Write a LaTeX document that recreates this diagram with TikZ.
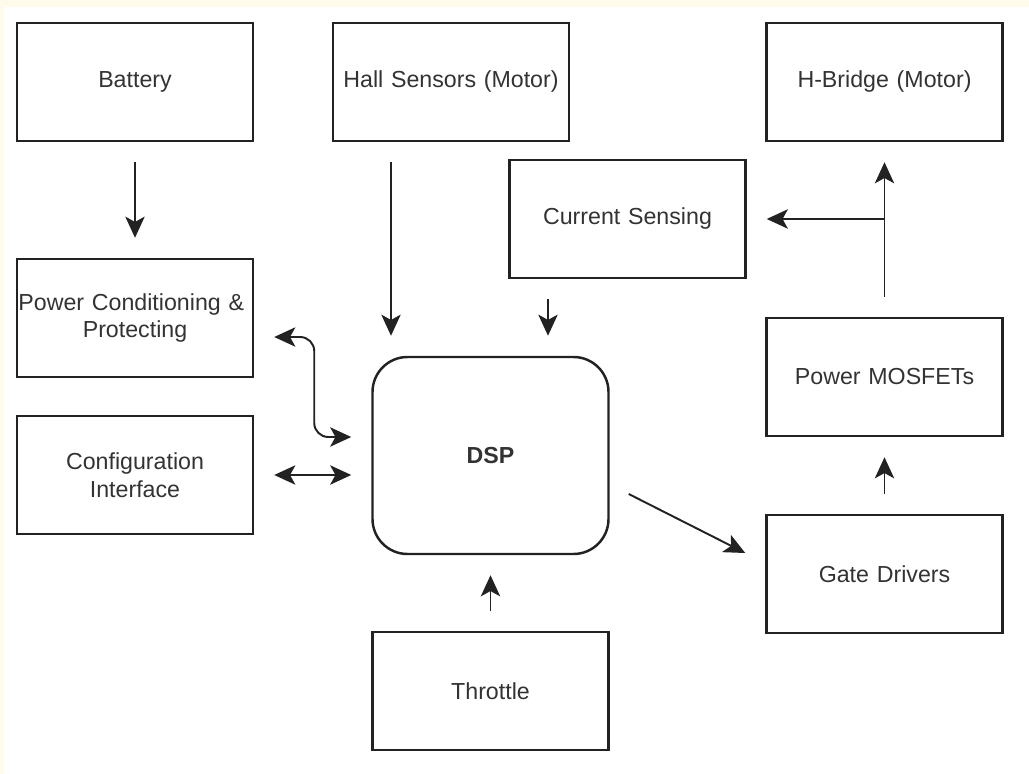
\documentclass[tikz,border=0pt]{standalone}
\usepackage{fontspec}
\setmainfont{Liberation Sans}
\usetikzlibrary{arrows.meta}
\definecolor{cream}{HTML}{FFFBEA}
\definecolor{ink}{HTML}{222222}
\definecolor{txt}{HTML}{333333}
\begin{document}
\begin{tikzpicture}[
        block/.style={draw=ink, line width=1.4pt, fill=white, minimum width=4.72cm, minimum height=2.36cm,
            text width=4.6cm, align=center, inner sep=0.06cm, text=txt, font=\fontsize{13.2}{15.9}\selectfont},
        arr/.style={-{Stealth[length=12pt,width=11pt,inset=3pt]}, line width=1.1pt, draw=ink},
        biarr/.style={{Stealth[length=12pt,width=11pt,inset=3pt]}-{Stealth[length=12pt,width=11pt,inset=3pt]}, line width=1.1pt, draw=ink},
        gap/.style={shorten <=0.4cm, shorten >=0.4cm}
    ]
        \fill[cream] (0, 0) rectangle (20.58, -15.48);
        \fill[white] (0.08, -0.14) rectangle (20.58, -15.48);
        \useasboundingbox (0, 0) rectangle (20.58, -15.48);

        \node[block] (battery) at (2.70, -1.64) {Battery};
        \node[block] (hall) at (9.02, -1.64) {Hall Sensors (Motor)};
        \node[block] (hbridge) at (17.69, -1.64) {H-Bridge (Motor)};
        \node[block] (current) at (12.55, -4.38) {Current Sensing};
        \node[block] (pcond) at (2.70, -6.36) {\hspace*{-0.15cm}Power Conditioning \&\\Protecting};
        \node[block] (config) at (2.70, -9.50) {Configuration\\Interface};
        \node[block, minimum height=3.94cm, rounded corners=0.7cm, font=\fontsize{13.2}{15.9}\selectfont\bfseries] (dsp) at (9.81, -9.11) {DSP};
        \node[block] (mosfets) at (17.69, -7.54) {Power MOSFETs};
        \node[block] (gate) at (17.69, -11.48) {Gate Drivers};
        \node[block] (throttle) at (9.81, -13.82) {Throttle};

        \draw[arr, gap] (battery) -- (pcond);
        \draw[arr, gap] ([xshift=-1.2cm]hall.south) -- ([xshift=-1.2cm]hall.south |- dsp.north);
        \draw[arr, gap] ([xshift=-1.59cm]current.south) -- ([xshift=-1.59cm]current.south |- dsp.north);
        \draw[biarr, rounded corners=8pt] ([xshift=0.4cm, yshift=-0.38cm]pcond.east) -- ++(0.8, 0)
            |- ([xshift=-0.4cm, yshift=0.37cm]dsp.west);
        \draw[biarr] ([xshift=0.4cm]config.east) -- ([xshift=-0.4cm]dsp.west |- config.east);
        \draw[arr] ([xshift=0.38cm, yshift=-0.77cm]dsp.east) -- ([xshift=-0.4cm, yshift=0.42cm]gate.west);
        \draw[arr, gap] (throttle) -- (dsp);
        \draw[arr, gap] (gate) -- (mosfets);
        \draw[arr, gap] (mosfets) -- (hbridge);
        \coordinate (branch) at (hbridge.south |- current.east);
        \draw[arr, shorten >=0.4cm] (branch) -- (current.east);
    \end{tikzpicture}
\end{document}
